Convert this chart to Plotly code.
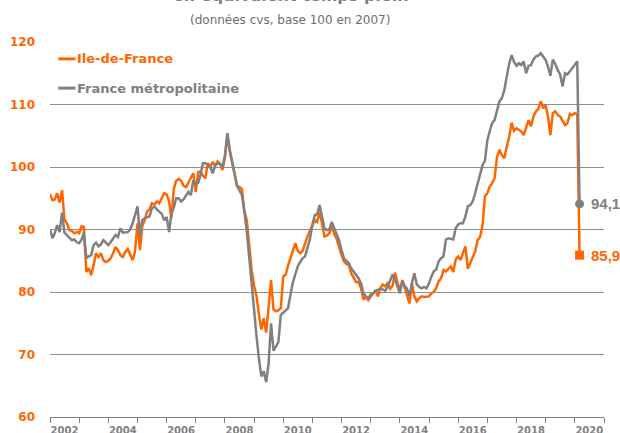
import pandas as pd
import plotly.graph_objects as go

# monthly index, base 100 en 2007 (Jan 2002 -> Mar 2020)
ile_de_france = [
    95.7, 94.7, 94.8, 95.8, 94.3, 96.3, 91.6, 91.0, 89.9, 89.8, 89.4, 89.6,  # 2002
    89.4, 90.5, 90.4, 83.2, 83.8, 82.7, 84.3, 86.2, 85.6, 86.2, 85.1, 84.8,  # 2003
    85.0, 85.4, 86.2, 87.2, 86.7, 85.9, 85.6, 86.4, 86.9, 85.9, 85.1, 86.5,  # 2004
    91.0, 86.7, 90.5, 91.5, 92.9, 93.2, 94.2, 94.0, 94.5, 94.2, 95.0, 95.8,  # 2005
    95.6, 94.5, 91.8, 96.5, 97.8, 98.1, 97.8, 97.0, 96.8, 97.6, 98.2, 99.0,  # 2006
    96.0, 99.2, 99.3, 98.6, 98.2, 100.6, 100.0, 100.8, 100.2, 100.9, 100.5, 99.5,  # 2007
    101.5, 105.2, 102.5, 100.8, 99.0, 97.0, 96.8, 96.5, 93.0, 91.5, 87.5, 83.5,  # 2008
    81.0, 79.3, 76.5, 74.0, 75.8, 73.5, 77.5, 81.9, 77.2, 76.9, 77.1, 77.4,  # 2009
    82.5, 82.8, 84.2, 85.3, 86.5, 87.8, 86.6, 86.2, 86.6, 87.8, 88.9, 89.8,  # 2010
    90.8, 91.5, 91.2, 92.8, 91.0, 88.9, 89.0, 89.4, 90.5, 89.3, 88.5, 87.0,  # 2011
    85.9, 84.9, 84.5, 84.3, 83.0, 82.3, 81.6, 81.6, 80.6, 78.8, 79.2, 78.7,  # 2012
    79.3, 79.8, 80.3, 79.3, 80.6, 81.2, 80.9, 81.4, 80.5, 81.0, 83.1, 81.5,  # 2013
    80.3, 81.9, 80.5, 79.4, 78.2, 81.4, 79.3, 78.5, 79.0, 79.3, 79.2, 79.3,  # 2014
    79.3, 79.8, 80.0, 80.6, 81.7, 82.2, 83.5, 83.3, 83.7, 84.1, 83.2, 85.2,  # 2015
    85.7, 85.1, 86.2, 87.3, 83.7, 84.6, 85.4, 86.5, 88.3, 88.8, 90.6, 95.3,  # 2016
    95.8, 96.9, 97.4, 98.2, 101.5, 102.8, 101.9, 101.4, 103.3, 104.8, 107.1, 105.8,  # 2017
    106.2, 105.9, 105.7, 105.1, 106.5, 107.5, 106.5, 108.1, 108.9, 109.3, 110.5, 109.4,  # 2018
    109.9, 108.0, 105.1, 108.6, 108.9, 108.3, 108.1, 107.3, 106.7, 107.0, 108.5, 108.3,  # 2019
    108.6, 108.4, 85.9,  # 2020
]

france_metro = [
    90.0, 88.6, 89.4, 90.7, 89.6, 92.7, 89.5, 89.1, 88.6, 88.3, 88.4, 88.0,  # 2002
    87.8, 88.4, 89.5, 85.4, 85.7, 85.9, 87.5, 87.9, 87.3, 87.6, 88.3, 87.9,  # 2003
    87.5, 88.0, 88.6, 89.1, 88.8, 90.2, 89.5, 89.5, 89.6, 90.0, 91.0, 92.3,  # 2004
    93.7, 89.0, 91.5, 91.8, 92.0, 92.1, 93.4, 93.7, 93.2, 92.8, 92.5, 91.5,  # 2005
    92.0, 89.6, 92.5, 93.5, 95.0, 95.0, 94.5, 94.8, 95.5, 96.0, 95.5, 97.9,  # 2006
    97.2, 97.5, 98.7, 100.6, 100.6, 100.4, 100.0, 99.0, 100.2, 100.6, 100.5, 100.0,  # 2007
    101.8, 105.4, 102.8, 100.6, 99.0, 97.0, 96.3, 95.5, 92.8, 89.8, 85.5, 80.9,  # 2008
    77.0, 72.8, 69.5, 66.5, 67.3, 65.6, 68.5, 75.0, 70.6, 71.2, 72.0, 76.3,  # 2009
    76.7, 77.0, 77.4, 79.5, 81.5, 82.8, 84.1, 84.8, 85.4, 85.7, 87.0, 88.5,  # 2010
    90.8, 92.3, 92.4, 93.9, 92.1, 90.2, 89.9, 90.0, 91.2, 90.3, 89.4, 88.3,  # 2011
    86.7, 85.4, 85.0, 84.6, 83.8, 83.3, 82.7, 82.2, 81.4, 79.8, 79.3, 79.0,  # 2012
    79.6, 79.8, 80.2, 80.4, 80.5, 80.4, 80.2, 80.8, 81.8, 82.8, 82.0, 80.9,  # 2013
    79.8, 81.7, 81.0, 80.5, 79.3, 81.4, 83.0, 81.2, 80.8, 80.6, 80.8, 80.6,  # 2014
    81.4, 82.5, 83.3, 83.6, 84.9, 85.4, 85.7, 88.4, 88.6, 88.5, 88.4, 90.2,  # 2015
    90.8, 91.0, 91.0, 92.1, 93.7, 93.9, 94.5, 95.8, 97.4, 98.5, 100.3, 101.0,  # 2016
    104.3, 105.8, 107.0, 107.5, 108.8, 110.5, 111.0, 112.3, 114.5, 116.5, 117.9, 116.8,  # 2017
    116.2, 116.6, 116.3, 116.9, 115.0, 116.2, 116.3, 117.2, 117.7, 117.8, 118.2, 117.6,  # 2018
    117.1, 116.0, 114.6, 117.2, 116.5, 115.5, 114.8, 112.9, 115.0, 114.8, 115.3, 115.8,  # 2019
    116.4, 116.9, 94.1,  # 2020
]

months = pd.date_range("2002-01-01", periods=len(ile_de_france), freq="MS")
label_years = list(range(2002, 2021, 2))
tick_years = list(range(2002, 2022))

ORANGE = "#FF6600"
GREY = "#808080"
FONT = "DejaVu Sans"


def fmt(v):
    return f"{v:.1f}".replace(".", ",")


fig = go.Figure()

fig.add_trace(go.Scatter(x=months, y=ile_de_france, mode="lines", name="Ile-de-France",
                         line=dict(color=ORANGE, width=2.5)))
fig.add_trace(go.Scatter(x=months, y=france_metro, mode="lines", name="France métropolitaine",
                         line=dict(color=GREY, width=2.5)))

# last points + value labels
fig.add_trace(go.Scatter(x=[months[-1]], y=[france_metro[-1]], mode="markers",
                         marker=dict(color=GREY, size=9, symbol="circle"), cliponaxis=False))
fig.add_trace(go.Scatter(x=[months[-1]], y=[ile_de_france[-1]], mode="markers",
                         marker=dict(color=ORANGE, size=9, symbol="square"), cliponaxis=False))
for series, col in [(france_metro, GREY), (ile_de_france, ORANGE)]:
    fig.add_annotation(x=months[-1], y=series[-1], text=fmt(series[-1]), showarrow=False,
                       xanchor="left", yanchor="middle", xshift=9,
                       font=dict(family="Liberation Sans", size=15, color=col, weight="bold"))

# legend drawn by hand (short swatches)
for yy, label, col in [(0.955, "Ile-de-France", ORANGE), (0.877, "France métropolitaine", GREY)]:
    fig.add_shape(type="line", xref="paper", yref="paper", x0=0.015, x1=0.046, y0=yy, y1=yy,
                  line=dict(color=col, width=3))
    fig.add_annotation(xref="paper", yref="paper", x=0.046, y=yy, text=label, showarrow=False,
                       xanchor="left", yanchor="middle",
                       font=dict(family=FONT, size=13, color=col, weight="bold"))

# title (top line cut off in the source) and subtitle
fig.add_annotation(xref="paper", yref="paper", x=0.435, y=1.123, text="en équivalent temps plein",
                   showarrow=False, xanchor="center", yanchor="middle",
                   font=dict(family=FONT, size=16, color="#7f7f7f", weight="bold"))
fig.add_annotation(xref="paper", yref="paper", x=0.433, y=1.058, text="(données cvs, base 100 en 2007)",
                   showarrow=False, xanchor="center", yanchor="middle",
                   font=dict(family=FONT, size=12, color="#6e6e6e"))

fig.update_xaxes(
    type="date",
    range=["2002-01-01", "2021-01-01"],
    tickvals=[f"{y}-07-01" for y in label_years],
    ticktext=[str(y) for y in label_years],
    ticks="",
    showgrid=False,
    showline=True, linecolor=GREY, linewidth=1,
    tickfont=dict(family=FONT, size=10, color=GREY, weight="bold"),
    ticklabelstandoff=4,
    automargin=False,
    minor=dict(tickvals=[f"{y}-01-01" for y in tick_years], ticks="outside",
               ticklen=5, tickcolor=GREY, showgrid=False),
)
fig.update_yaxes(
    range=[60, 120],
    dtick=10,
    showgrid=True, gridcolor="#8f8f8f", gridwidth=1,
    zeroline=False,
    ticks="",
    automargin=False,
    tickfont=dict(family=FONT, size=12, color=ORANGE, weight="bold"),
    ticklabelstandoff=14,
)

fig.update_layout(
    width=620, height=433,
    margin=dict(l=50, r=16, t=42, b=16),
    plot_bgcolor="white", paper_bgcolor="white",
    showlegend=False,
)

# drop the default 8px page margin so the figure fills the window; no mode bar
fig.write_html("out.html", config={"displayModeBar": False},
               post_script="document.body.style.margin='0';")
